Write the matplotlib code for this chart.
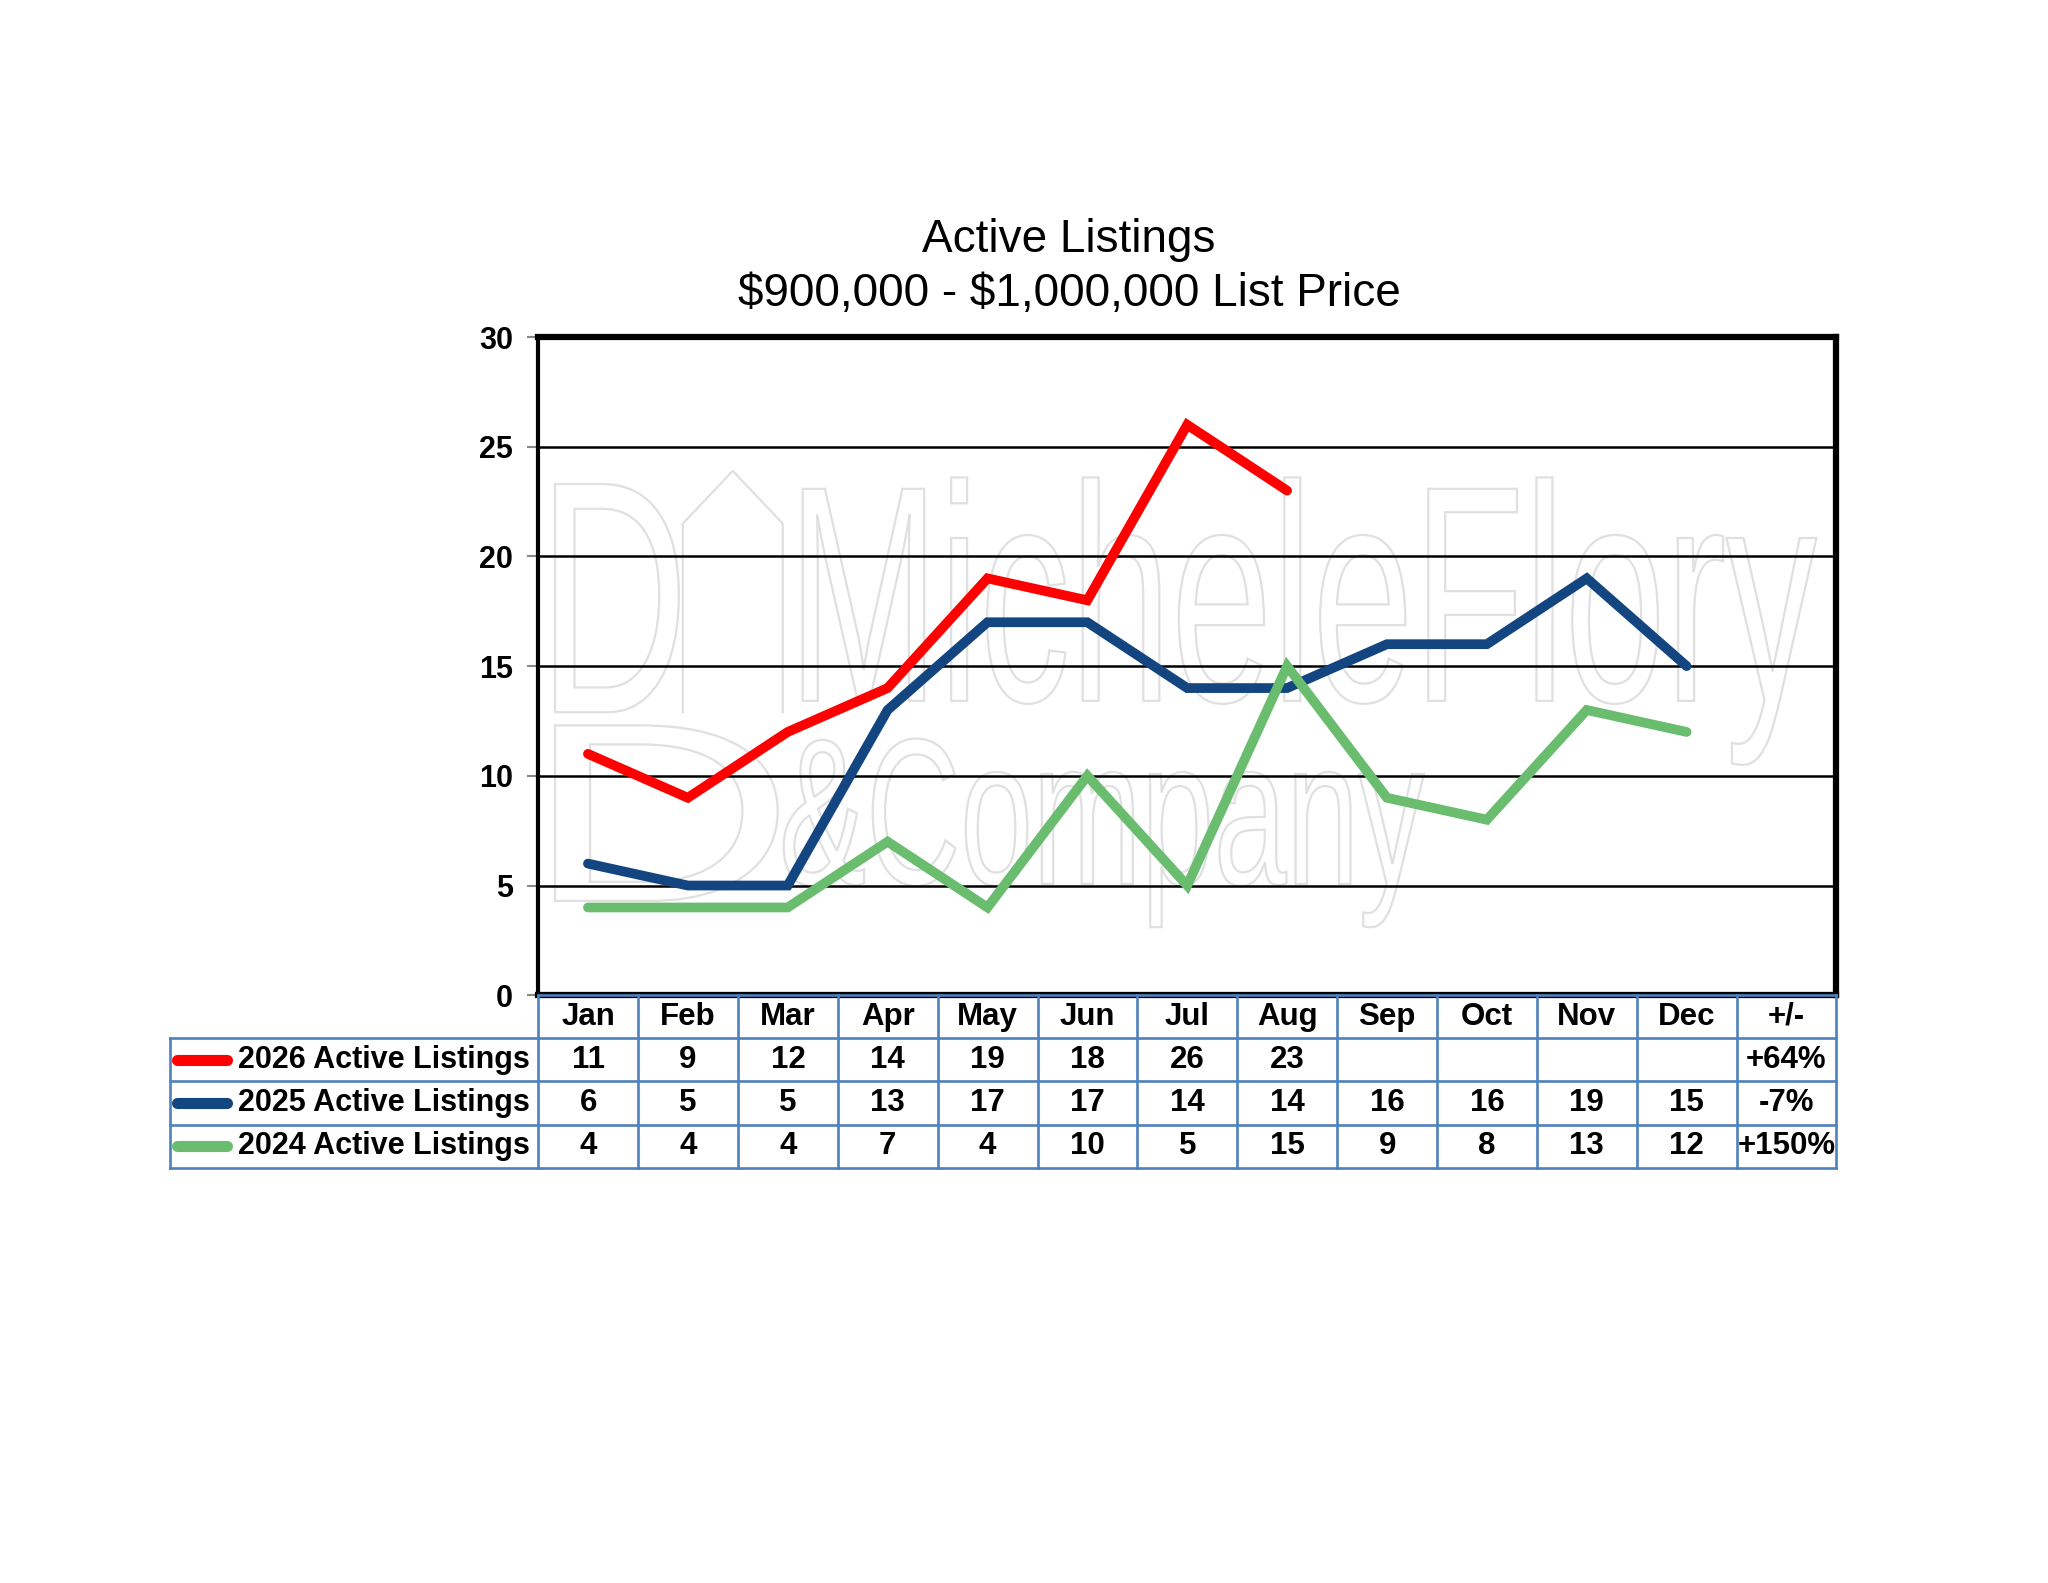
import matplotlib
matplotlib.use("Agg")
import matplotlib.pyplot as plt
import numpy as np
from matplotlib.textpath import TextPath
from matplotlib.patches import PathPatch
from matplotlib.font_manager import FontProperties
import matplotlib.transforms as mtransforms

plt.rcParams['font.family'] = ['Liberation Sans', 'DejaVu Sans']
plt.rcParams['text.parse_math'] = False

# ---- data ----
months = ['Jan', 'Feb', 'Mar', 'Apr', 'May', 'Jun', 'Jul', 'Aug', 'Sep', 'Oct', 'Nov', 'Dec']
change_header = '+/-'
series_labels = ['2026 Active Listings', '2025 Active Listings', '2024 Active Listings']
listings_2026 = [11, 9, 12, 14, 19, 18, 26, 23]
listings_2025 = [6, 5, 5, 13, 17, 17, 14, 14, 16, 16, 19, 15]
listings_2024 = [4, 4, 4, 7, 4, 10, 5, 15, 9, 8, 13, 12]
changes = ['+64%', '-7%', '+150%']
title_lines = ['Active Listings', '$900,000 - $1,000,000 List Price']
y_ticks = [0, 5, 10, 15, 20, 25, 30]

colors = ['#ff0000', '#134680', '#6abd6e']
grid_blue = '#4f81bd'

series = [listings_2026, listings_2025, listings_2024]

fig = plt.figure(figsize=(20.48, 15.83), dpi=100)
fig.patch.set_facecolor('white')

ax = fig.add_axes([0.2627, 0.3713, 0.8967 - 0.2627, 0.7871 - 0.3713])
ncols = len(months) + 1
ax.set_xlim(0, ncols)
ax.set_ylim(0, 30)

# ---- watermark (outlined text) ----
def outline_text(s, x0, x1, y0, y1, fp, lw=1.6):
    tp = TextPath((0, 0), s, prop=fp, size=1)
    bb = tp.get_extents()
    tr = (mtransforms.Affine2D().translate(-bb.x0, -bb.y0)
          .scale((x1 - x0) / bb.width, (y1 - y0) / bb.height)
          .translate(x0, y0))
    path = tr.transform_path(tp)
    ax.add_patch(PathPatch(path, facecolor='none', edgecolor='#e0e0e0', lw=lw, zorder=0.5))

fp = FontProperties(family='Liberation Sans')
outline_text('MicheleFlory', 2.65, 12.8, 10.5, 23.6, fp)
outline_text('&Company', 2.46, 8.87, 3.1, 11.7, fp)
outline_text('D', 0.17, 1.41, 12.9, 23.3, fp)
outline_text('D', 0.17, 2.4, 4.3, 12.3, fp)
# house outline
hx = [1.45, 1.45, 1.95, 2.45, 2.45]
hy = [12.9, 21.5, 23.9, 21.5, 12.9]
ax.plot(hx, hy, color='#e0e0e0', lw=1.6, zorder=0.5)

# ---- gridlines ----
ax.set_yticks(y_ticks)
ax.yaxis.grid(True, color='black', lw=1.8, zorder=1)
ax.set_axisbelow(True)
ax.set_xticks([])
ax.set_yticklabels([str(v) for v in y_ticks], fontsize=22, fontweight='bold')
ax.tick_params(axis='y', length=8, width=1.5, color='#888888', pad=10)

for side in ['top', 'right', 'bottom']:
    ax.spines[side].set_linewidth(4.5)
    ax.spines[side].set_color('black')
ax.spines['left'].set_linewidth(3)
ax.spines['left'].set_color('black')

# ---- lines ----
zorders = [5, 3, 4]
for vals, c, z in zip(series, colors, zorders):
    xs = np.arange(len(vals)) + 0.5
    ax.plot(xs, vals, color=c, lw=7, solid_capstyle='round', solid_joinstyle='miter', zorder=z)

# ---- title ----
fig.text(0.522, 1 - 240 / 1583, title_lines[0], ha='center', va='center', fontsize=33)
fig.text(0.522, 1 - 294 / 1583, title_lines[1], ha='center', va='center', fontsize=33)

# ---- data table ----
lab_left = -3.69
tax = fig.add_axes([0.0829, 0.2624, 0.8967 - 0.0829, 0.3713 - 0.2624])
tax.set_xlim(lab_left, ncols)
tax.set_ylim(4, 0)
tax.axis('off')

lw_t = 1.9
for i in range(ncols + 1):
    tax.plot([i, i], [0, 4], color=grid_blue, lw=lw_t, clip_on=False, zorder=1)
tax.plot([lab_left, lab_left], [1, 4], color=grid_blue, lw=lw_t, clip_on=False)
for r in [1, 2, 3, 4]:
    tax.plot([lab_left, ncols], [r, r], color=grid_blue, lw=lw_t, clip_on=False)
tax.plot([0, ncols], [0, 0], color=grid_blue, lw=lw_t, clip_on=False, zorder=0)

fs_t = 22.5
headers = months + [change_header]
for i, h in enumerate(headers):
    tax.text(i + 0.5, 0.5, h, ha='center', va='center', fontsize=fs_t, fontweight='bold')

for r, (lab, vals, c, ch) in enumerate(zip(series_labels, series, colors, changes)):
    yc = r + 1.5
    tax.plot([-3.62, -3.12], [yc, yc], color=c, lw=8, solid_capstyle='round', clip_on=False)
    tax.text(-0.08, yc, lab, ha='right', va='center', fontsize=22, fontweight='bold')
    for i, v in enumerate(vals):
        tax.text(i + 0.5, yc, str(v), ha='center', va='center', fontsize=fs_t, fontweight='bold')
    tax.text(ncols - 0.5, yc, ch, ha='center', va='center', fontsize=fs_t, fontweight='bold')

fig.savefig('out.png', dpi=100, facecolor='white')
